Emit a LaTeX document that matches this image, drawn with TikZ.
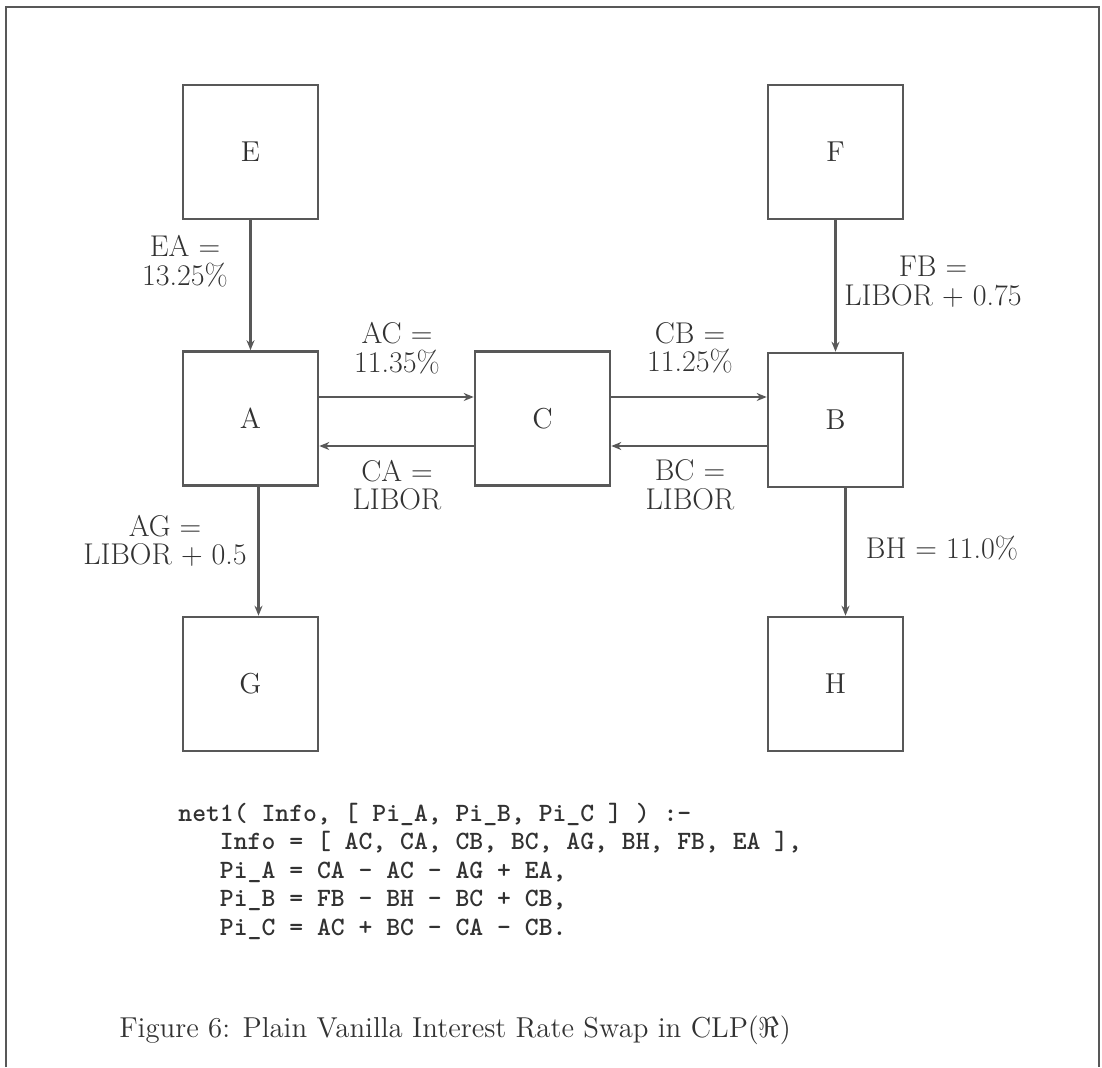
\documentclass[tikz,border=0pt]{standalone}
\usetikzlibrary{arrows.meta}
\definecolor{linec}{RGB}{88,88,88}
\definecolor{textc}{RGB}{50,50,50}
\begin{document}
\begin{tikzpicture}[x=0.5pt,y=-0.5pt,
  box/.style={draw=linec,line width=1.3pt,minimum width=67.5pt,minimum height=67pt,inner sep=0pt,
    text=textc,font=\fontsize{14.4}{16}\selectfont},
  lbl/.style={text=textc,align=center,inner sep=0pt,font=\fontsize{15}{14.3}\selectfont},
  arr/.style={draw=linec,line width=1.1pt,-{Stealth[length=5pt,width=4pt]}}]
\useasboundingbox (0,0) rectangle (1102,1067);
% frame
\draw[linec,line width=1.3pt] (6,1067) -- (6,7) -- (1099,7) -- (1099,1067);
% boxes
\node[box] (E) at (250.5,152) {E};
\node[box] (F) at (835.5,152) {F};
\node[box] (A) at (250.5,418.5) {A};
\node[box] (C) at (542.5,418.5) {C};
\node[box] (B) at (835.5,420) {B};
\node[box] (G) at (250.5,684) {G};
\node[box] (H) at (835.5,684) {H};
% connectors
\draw[arr] (E.south) -- (A.north);
\draw[arr] (F.south) -- (B.north);
\draw[arr] ([xshift=4pt]A.south) -- ([xshift=4pt]G.north);
\draw[arr] ([xshift=5pt]B.south) -- ([xshift=5pt]H.north);
\draw[arr] ([yshift=10.75pt]A.east) -- ([yshift=10.75pt]C.west);
\draw[arr] ([yshift=-13.75pt]C.west) -- ([yshift=-13.75pt]A.east);
\draw[arr] ([yshift=10.75pt]C.east) -- ([yshift=10.75pt]C.east -| B.west);
\draw[arr] ([yshift=-13.75pt]C.east -| B.west) -- ([yshift=-13.75pt]C.east);
% labels
\node[lbl] (lEA) at (185,261) {EA =\\13.25\%};
\node[lbl] (lAC) at (397,348) {AC =\\11.35\%};
\node[lbl] (lCB) at (690,348) {CB =\\11.25\%};
\node[lbl] (lFB) at (933,282) {FB =\\LIBOR + 0.75};
\node[lbl] (lCA) at (397,485) {CA =\\LIBOR};
\node[lbl] (lBC) at (690,485) {BC =\\LIBOR};
\node[lbl] (lAG) at (165,541) {AG =\\LIBOR + 0.5};
\node[lbl] (lBH) at (942,548) {BH = 11.0\%};
% code
\node[anchor=base west,align=left,inner sep=0pt,text=textc,
  font=\fontsize{13.2}{14.2}\selectfont\ttfamily\bfseries] (code) at (178,935)
 {net1( Info, [ Pi\_A, Pi\_B, Pi\_C ] ) :-\\
  \phantom{net}Info = [ AC, CA, CB, BC, AG, BH, FB, EA ],\\
  \phantom{net}Pi\_A = CA - AC - AG + EA,\\
  \phantom{net}Pi\_B = FB - BH - BC + CB,\\
  \phantom{net}Pi\_C = AC + BC - CA - CB.};
% caption
\node[text=textc,inner sep=0pt,font=\fontsize{14.4}{16}\selectfont] (cap) at (455,1030)
 {Figure 6: Plain Vanilla Interest Rate Swap in CLP($\Re$)};
\end{tikzpicture}
\end{document}
